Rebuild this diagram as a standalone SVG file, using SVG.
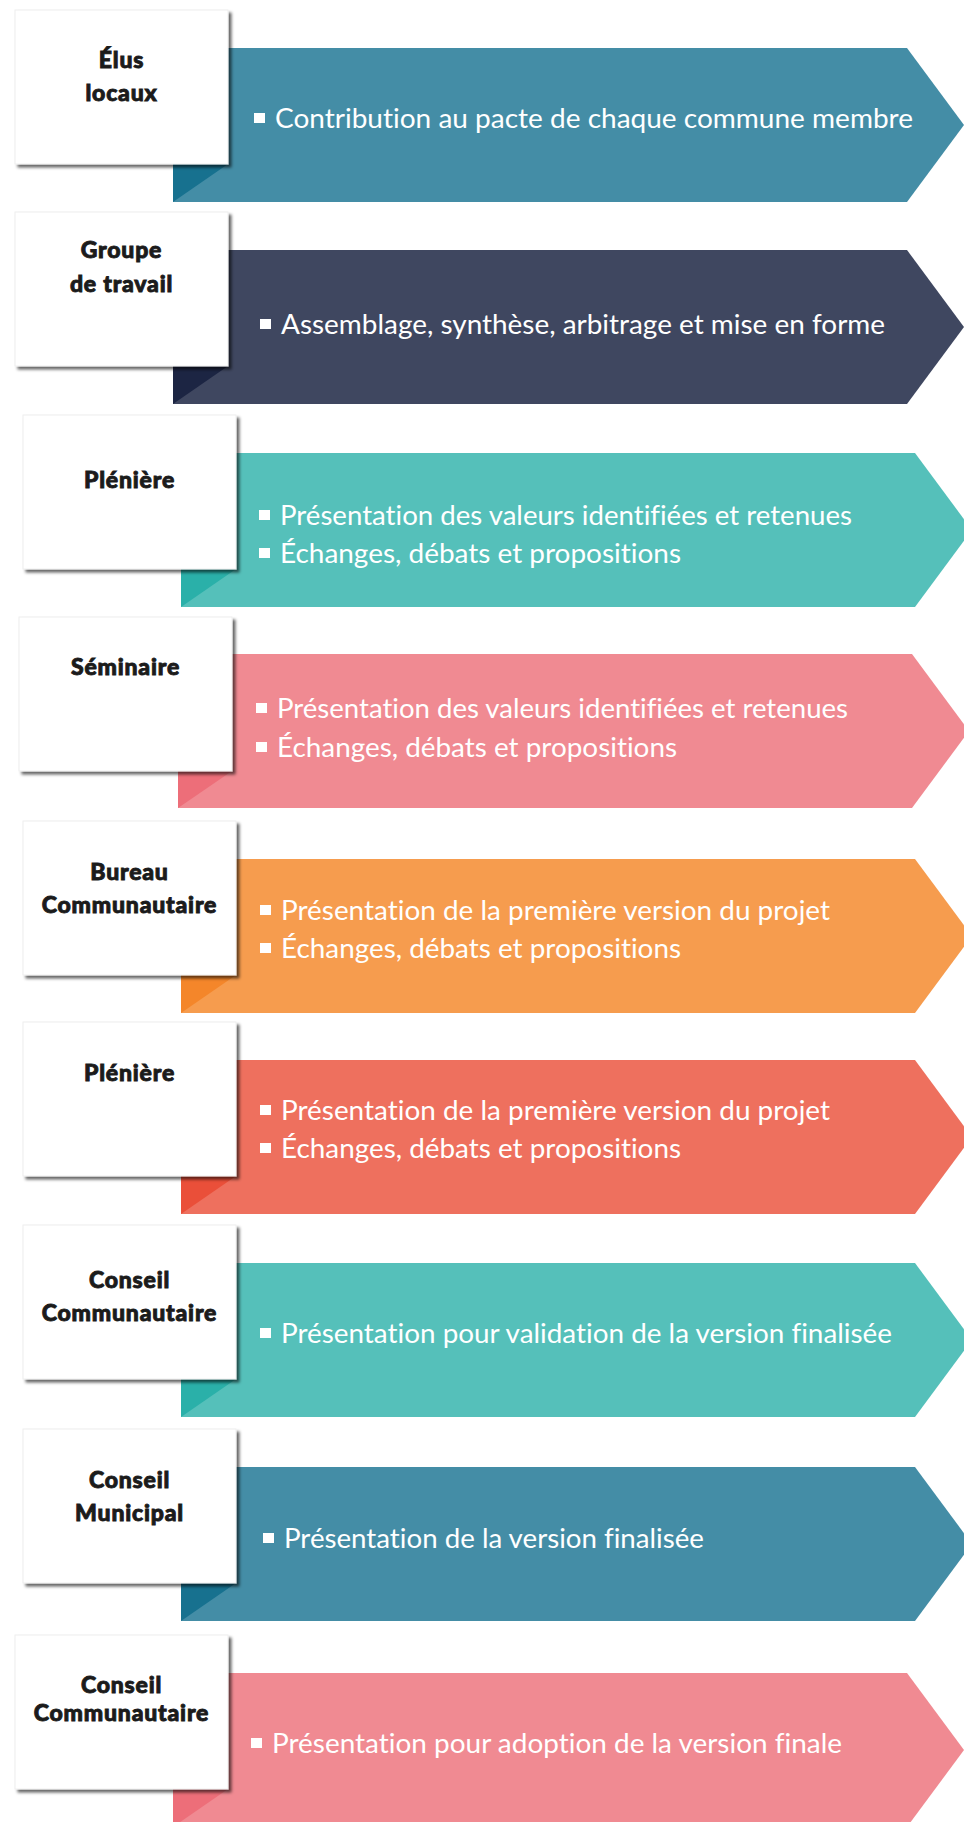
<svg xmlns="http://www.w3.org/2000/svg" width="964" height="1822" viewBox="0 0 964 1822">
<defs>
<filter id="sh" x="-10%" y="-10%" width="125%" height="125%">
<feDropShadow dx="3" dy="3" stdDeviation="1.8" flood-color="#000" flood-opacity="0.6"/>
</filter>
<style>
.card{fill:#fff;stroke:#eeeeee;stroke-width:1;filter:url(#sh)}
.lbl{font-family:Lato,"Liberation Sans",sans-serif;font-weight:900;font-size:23px;letter-spacing:0.8px;fill:#1b1b1b;stroke:#1b1b1b;stroke-width:0.9px;text-anchor:middle}
.txt{font-family:Lato,"Open Sans","Liberation Sans",sans-serif;font-weight:400;font-size:27px;fill:#fff;font-variant-ligatures:none}
.bul{fill:#fff}
.c1{fill:#448DA6}.d1{fill:#17718F}
.c2{fill:#3F4760}.d2{fill:#1C2543}
.c3{fill:#55C0BA}.d3{fill:#2AB0A9}
.c4{fill:#F08A92}.d4{fill:#ED6E79}
.c5{fill:#F69C4E}.d5{fill:#F4862A}
.c6{fill:#EE705E}.d6{fill:#EA4F39}
</style>
</defs>
<rect width="964" height="1822" fill="#fff"/>
<g id="connectors"/>

<g id="row1">
<polygon class="c1" points="173,48 907,48 964,125 907,202 173,202"/>
<polygon class="d1" points="173,164 228,164 173,202"/>
<rect class="card" x="15" y="10" width="213" height="154"/>
<text class="lbl" x="121.5" y="68">Élus</text>
<text class="lbl" x="121.5" y="101">locaux</text>
<rect class="bul" x="254" y="113" width="11" height="10"/>
<text class="txt" x="275" y="128" textLength="638" lengthAdjust="spacingAndGlyphs">Contribution au pacte de chaque commune membre</text>
</g>

<g id="row2">
<polygon class="c2" points="173,250 907,250 964,327 907,404 173,404"/>
<polygon class="d2" points="173,366 228,366 173,404"/>
<rect class="card" x="15" y="212" width="213" height="154"/>
<text class="lbl" x="121.5" y="258">Groupe</text>
<text class="lbl" x="121.5" y="292">de travail</text>
<rect class="bul" x="260" y="319" width="11" height="10"/>
<text class="txt" x="281" y="334" textLength="604" lengthAdjust="spacingAndGlyphs">Assemblage, synthèse, arbitrage et mise en forme</text>
</g>

<g id="row3">
<polygon class="c3" points="181,453 915,453 972,530 915,607 181,607"/>
<polygon class="d3" points="181,569 236,569 181,607"/>
<rect class="card" x="23" y="415" width="213" height="154"/>
<text class="lbl" x="129.5" y="488">Plénière</text>
<rect class="bul" x="259" y="510" width="11" height="10"/>
<text class="txt" x="280" y="525" textLength="572" lengthAdjust="spacingAndGlyphs">Présentation des valeurs identifiées et retenues</text>
<rect class="bul" x="259" y="548" width="11" height="10"/>
<text class="txt" x="280" y="563" textLength="401" lengthAdjust="spacingAndGlyphs">Échanges, débats et propositions</text>
</g>

<g id="row4">
<polygon class="c4" points="178,654 912,654 969,731 912,808 178,808"/>
<polygon class="d4" points="178,771 232,771 178,808"/>
<rect class="card" x="19" y="617" width="213" height="154"/>
<text class="lbl" x="125.5" y="675">Séminaire</text>
<rect class="bul" x="256" y="703" width="11" height="10"/>
<text class="txt" x="277" y="718" textLength="571" lengthAdjust="spacingAndGlyphs">Présentation des valeurs identifiées et retenues</text>
<rect class="bul" x="256" y="742" width="11" height="10"/>
<text class="txt" x="277" y="757" textLength="400" lengthAdjust="spacingAndGlyphs">Échanges, débats et propositions</text>
</g>

<g id="row5">
<polygon class="c5" points="181,859 915,859 972,936 915,1013 181,1013"/>
<polygon class="d5" points="181,975 236,975 181,1013"/>
<rect class="card" x="23" y="821" width="213" height="154"/>
<text class="lbl" x="129.5" y="880">Bureau</text>
<text class="lbl" x="129.5" y="913">Communautaire</text>
<rect class="bul" x="260" y="905" width="11" height="10"/>
<text class="txt" x="281" y="920" textLength="549" lengthAdjust="spacingAndGlyphs">Présentation de la première version du projet</text>
<rect class="bul" x="260" y="943" width="11" height="10"/>
<text class="txt" x="281" y="958" textLength="400" lengthAdjust="spacingAndGlyphs">Échanges, débats et propositions</text>
</g>

<g id="row6">
<polygon class="c6" points="181,1060 915,1060 972,1137 915,1214 181,1214"/>
<polygon class="d6" points="181,1176 236,1176 181,1214"/>
<rect class="card" x="23" y="1022" width="213" height="154"/>
<text class="lbl" x="129.5" y="1081">Plénière</text>
<rect class="bul" x="260" y="1105" width="11" height="10"/>
<text class="txt" x="281" y="1120" textLength="549" lengthAdjust="spacingAndGlyphs">Présentation de la première version du projet</text>
<rect class="bul" x="260" y="1143" width="11" height="10"/>
<text class="txt" x="281" y="1158" textLength="400" lengthAdjust="spacingAndGlyphs">Échanges, débats et propositions</text>
</g>

<g id="row7">
<polygon class="c3" points="181,1263 915,1263 972,1340 915,1417 181,1417"/>
<polygon class="d3" points="181,1379 236,1379 181,1417"/>
<rect class="card" x="23" y="1225" width="213" height="154"/>
<text class="lbl" x="129.5" y="1288">Conseil</text>
<text class="lbl" x="129.5" y="1321">Communautaire</text>
<rect class="bul" x="260" y="1328" width="11" height="10"/>
<text class="txt" x="281" y="1343" textLength="611" lengthAdjust="spacingAndGlyphs">Présentation pour validation de la version finalisée</text>
</g>

<g id="row8">
<polygon class="c1" points="181,1467 915,1467 972,1544 915,1621 181,1621"/>
<polygon class="d1" points="181,1583 236,1583 181,1621"/>
<rect class="card" x="23" y="1429" width="213" height="154"/>
<text class="lbl" x="129.5" y="1488">Conseil</text>
<text class="lbl" x="129.5" y="1521">Municipal</text>
<rect class="bul" x="263" y="1533" width="11" height="10"/>
<text class="txt" x="284" y="1548" textLength="420" lengthAdjust="spacingAndGlyphs">Présentation de la version finalisée</text>
</g>

<g id="row9">
<polygon class="c4" points="173,1673 907,1673 964,1750 907,1827 173,1827"/>
<polygon class="d4" points="173,1789 228,1789 173,1827"/>
<rect class="card" x="15" y="1635" width="213" height="154"/>
<text class="lbl" x="121.5" y="1693">Conseil</text>
<text class="lbl" x="121.5" y="1721">Communautaire</text>
<rect class="bul" x="251" y="1738" width="11" height="10"/>
<text class="txt" x="272" y="1753" textLength="570" lengthAdjust="spacingAndGlyphs">Présentation pour adoption de la version finale</text>
</g>
</svg>
